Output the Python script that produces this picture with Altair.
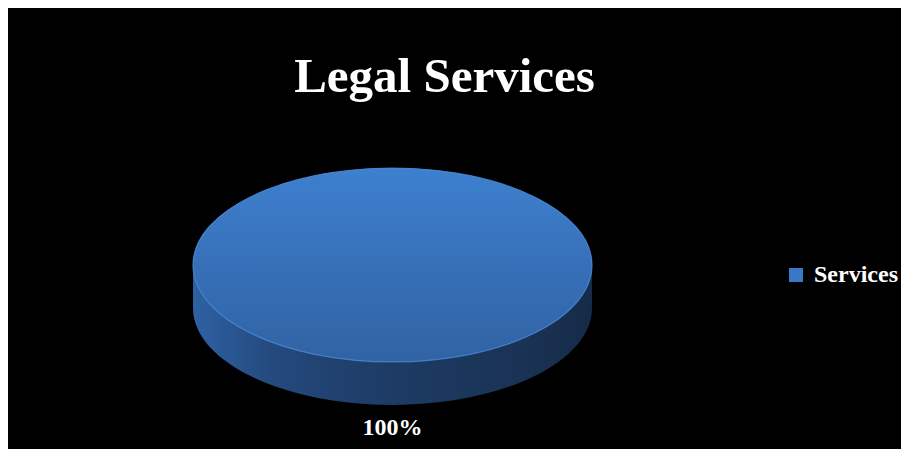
import altair as alt
import pandas as pd

# ---- data ----
categories = ["Services"]
values = [100]
title_text = "Legal Services"

df = pd.DataFrame({"category": categories, "value": values})

# ---- shapes (unit coordinates, ellipse with rx=1) ----
TOP = ("M -1 0 C -1 -0.2684 -0.5523 -0.486 0 -0.486 "
       "C 0.5523 -0.486 1 -0.2684 1 0 "
       "C 1 0.2684 0.5523 0.486 0 0.486 "
       "C -0.5523 0.486 -1 0.2684 -1 0 Z")
SIDE = ("M -1 0 L -1 0.2155 C -1 0.4839 -0.5523 0.7015 0 0.7015 "
        "C 0.5523 0.7015 1 0.4839 1 0.2155 L 1 0 Z")
SIZE = 399 * 399
SERIF = "Liberation Serif"

base = alt.Chart(df)

side = base.mark_point(
    shape=SIDE, filled=True, size=SIZE, strokeWidth=0, opacity=1,
    fill=alt.Gradient(
        gradient="linear", x1=0, y1=0, x2=1, y2=0,
        stops=[
            alt.GradientStop(color="#2e61a3", offset=0),
            alt.GradientStop(color="#24497d", offset=0.2),
            alt.GradientStop(color="#1d3b64", offset=0.5),
            alt.GradientStop(color="#1a3356", offset=0.8),
            alt.GradientStop(color="#162b49", offset=1),
        ],
    ),
).encode(detail="category:N")

top_solid = base.mark_point(
    shape=TOP, filled=True, size=SIZE, strokeWidth=0, opacity=1
).encode(
    color=alt.Color(
        "category:N",
        scale=alt.Scale(domain=categories, range=["#3b78c4"]),
        legend=alt.Legend(
            orient="none", legendX=776, legendY=174, title=None,
            symbolType="square", symbolSize=196, symbolStrokeWidth=0,
            labelFont=SERIF, labelFontSize=24, labelFontWeight="bold",
            labelColor="white", labelOffset=6,
        ),
    )
)

top_grad = base.mark_point(
    shape=TOP, filled=True, size=SIZE, opacity=1,
    stroke="#4a87d2", strokeWidth=1.2, strokeOpacity=0.8,
    fill=alt.Gradient(
        gradient="linear", x1=0, y1=0, x2=0, y2=1,
        stops=[
            alt.GradientStop(color="#3d80cf", offset=0),
            alt.GradientStop(color="#3770b8", offset=0.5),
            alt.GradientStop(color="#3063a4", offset=1),
        ],
    ),
).encode(detail="category:N")

label = base.transform_joinaggregate(
    total="sum(value)"
).transform_calculate(
    share="datum.value / datum.total"
).mark_text(
    font=SERIF, fontSize=24, fontWeight="bold", color="white",
    baseline="alphabetic", align="center", dy=170,
).encode(text=alt.Text("share:Q", format=".0%"))

chart = alt.layer(side, top_solid, top_grad, label).properties(
    width=769,
    height=352,
    padding={"left": 0, "top": 81, "right": 124, "bottom": 8},
    autosize=alt.AutoSizeParams(type="none"),
    title=alt.TitleParams(
        title_text, font=SERIF, fontSize=49, fontWeight="bold",
        color="white", anchor="middle", frame="group", dx=52,
        offset=-52, baseline="alphabetic",
    ),
).configure(
    background="black"
).configure_view(
    stroke=None
)

chart.save("out.html", embed_options={"renderer": "svg", "actions": False})
